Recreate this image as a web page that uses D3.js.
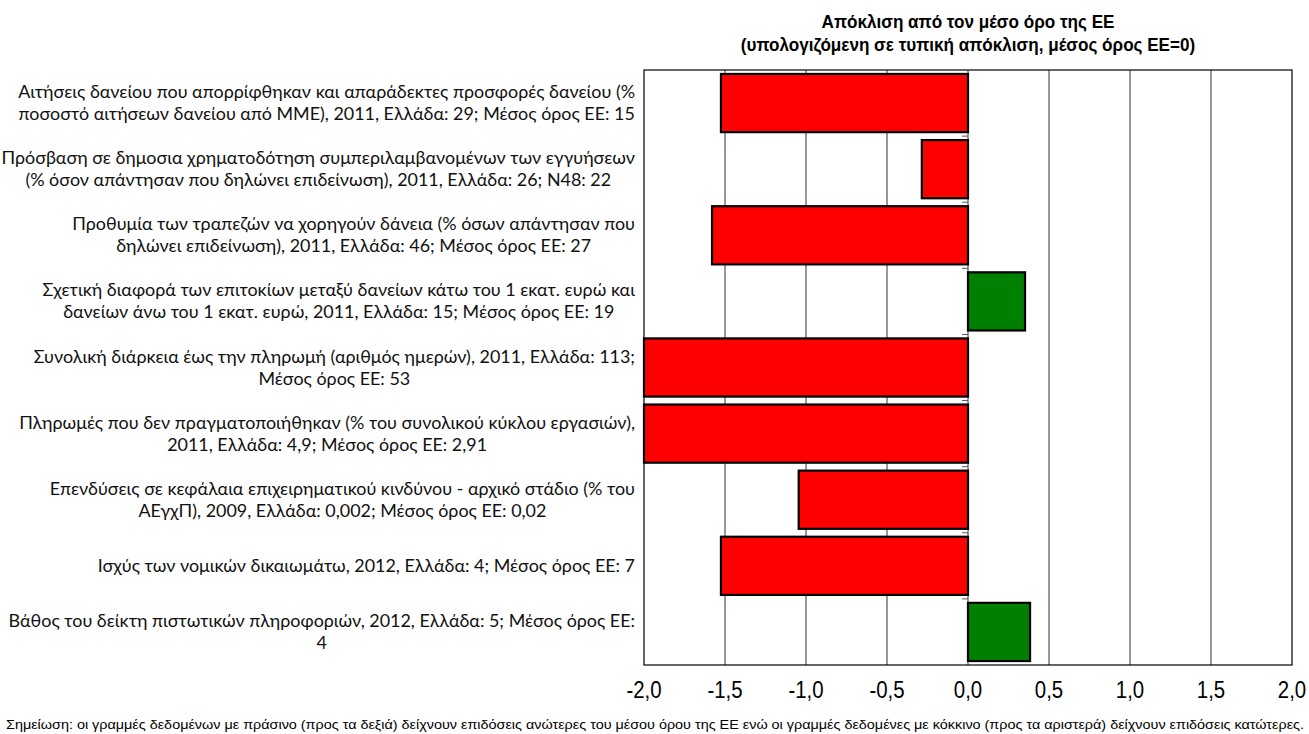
<!DOCTYPE html>
<html>
<head>
<meta charset="utf-8">
<title>Απόκλιση από τον μέσο όρο της ΕΕ</title>
<script src="https://d3js.org/d3.v7.min.js"></script>
<style>
  body { margin: 0; background: #fff; }
</style>
</head>
<body>
<svg id="chart" width="1309" height="734"></svg>
<script>
// category labels, already split into the two lines Excel wraps them into
var categories = [
  ["Αιτήσεις δανείου που απορρίφθηκαν και απαράδεκτες προσφορές δανείου (%", "ποσοστό αιτήσεων δανείου από ΜΜΕ), 2011, Ελλάδα: 29; Μέσος όρος ΕΕ: 15"],
  ["Πρόσβαση σε δημοσια χρηματοδότηση συμπεριλαμβανομένων των εγγυήσεων", "(% όσον απάντησαν που δηλώνει επιδείνωση), 2011, Ελλάδα: 26; N48: 22"],
  ["Προθυμία των τραπεζών να χορηγούν δάνεια  (% όσων απάντησαν που", "δηλώνει επιδείνωση), 2011, Ελλάδα: 46; Μέσος όρος ΕΕ: 27"],
  ["Σχετική διαφορά των επιτοκίων μεταξύ δανείων κάτω του 1 εκατ. ευρώ και", "δανείων άνω του 1 εκατ. ευρώ, 2011, Ελλάδα: 15; Μέσος όρος ΕΕ: 19"],
  ["Συνολική διάρκεια έως την πληρωμή (αριθμός ημερών), 2011, Ελλάδα: 113;", "Μέσος όρος ΕΕ: 53"],
  ["Πληρωμές που δεν πραγματοποιήθηκαν (% του συνολικού κύκλου εργασιών),", "2011, Ελλάδα: 4,9; Μέσος όρος ΕΕ: 2,91"],
  ["Επενδύσεις σε κεφάλαια επιχειρηματικού κινδύνου - αρχικό στάδιο (% του", "ΑΕγχΠ), 2009, Ελλάδα: 0,002; Μέσος όρος ΕΕ: 0,02"],
  ["Ισχύς των νομικών δικαιωμάτω, 2012, Ελλάδα: 4; Μέσος όρος ΕΕ: 7"],
  ["Βάθος του δείκτη πιστωτικών πληροφοριών, 2012, Ελλάδα: 5; Μέσος όρος ΕΕ:", "4"]
];

// deviation from EU average, in standard deviations
var values = [-1.525, -0.285, -1.58, 0.352, -2.0, -2.0, -1.045, -1.525, 0.383];

var tickValues = [-2, -1.5, -1, -0.5, 0, 0.5, 1, 1.5, 2];

var titleLines = ["Απόκλιση από τον μέσο όρο της ΕΕ", "(υπολογιζόμενη σε τυπική απόκλιση, μέσος όρος ΕΕ=0)"];
var note = "Σημείωση: οι γραμμές δεδομένων με πράσινο (προς τα δεξιά) δείχνουν επιδόσεις ανώτερες του μέσου όρου της ΕΕ ενώ οι γραμμές δεδομένες με κόκκινο (προς τα αριστερά) δείχνουν  επιδόσεις κατώτερες.";

var sans = "'Liberation Sans', Arial, sans-serif";
var labelFont = "Lato, 'Open Sans', sans-serif";

var plot = {left: 644, right: 1292, top: 70, bottom: 665};
var svg = d3.select("#chart");

var x = d3.scaleLinear().domain([-2, 2]).range([plot.left, plot.right]);
var y = d3.scaleBand()
    .domain(d3.range(categories.length))
    .range([plot.top, plot.bottom])
    .paddingInner(0.12)
    .paddingOuter(0.06);

// title (condensed, like Arial Narrow)
svg.append("g").selectAll("text")
    .data(titleLines)
    .enter().append("text")
    .attr("transform", (d, i) => "translate(968," + (28 + i * 23) + ") scale(0.9,1)")
    .attr("text-anchor", "middle")
    .style("font-family", sans)
    .style("font-weight", "bold")
    .style("font-size", "19px")
    .text(d => d);

// vertical gridlines
svg.append("g").selectAll("line")
    .data(tickValues.slice(1, -1))
    .enter().append("line")
    .attr("x1", d => x(d)).attr("x2", d => x(d))
    .attr("y1", plot.top).attr("y2", plot.bottom)
    .attr("stroke", "#333")
    .attr("stroke-width", 1);

// plot border
svg.append("rect")
    .attr("x", plot.left).attr("y", plot.top)
    .attr("width", plot.right - plot.left)
    .attr("height", plot.bottom - plot.top)
    .attr("fill", "none")
    .attr("stroke", "#000")
    .attr("stroke-width", 1.2);

// category ticks on the zero axis
var step = (plot.bottom - plot.top) / categories.length;
svg.append("g").selectAll("line")
    .data(d3.range(1, categories.length))
    .enter().append("line")
    .attr("x1", x(0) - 6).attr("x2", x(0))
    .attr("y1", d => plot.top + d * step).attr("y2", d => plot.top + d * step)
    .attr("stroke", "#555");

// bars
svg.append("g").selectAll("rect")
    .data(values)
    .enter().append("rect")
    .attr("x", d => x(Math.min(0, d)))
    .attr("y", (d, i) => y(i))
    .attr("width", d => Math.abs(x(d) - x(0)))
    .attr("height", y.bandwidth())
    .attr("fill", d => d < 0 ? "#ff0000" : "#008000")
    .attr("stroke", "#000")
    .attr("stroke-width", 2.2);

// x axis tick labels
svg.append("g").selectAll("text")
    .data(tickValues)
    .enter().append("text")
    .attr("transform", d => "translate(" + x(d) + ",698) scale(0.85,1)")
    .attr("text-anchor", "middle")
    .style("font-family", sans)
    .style("font-size", "24px")
    .text(d => d3.format(".1f")(d).replace(".", ",").replace("−", "-"));

// category labels: centred lines, block right-aligned against the plot
var labelRight = 635;
categories.forEach(function(lines, i) {
    var cy = plot.top + (i + 0.5) * step;
    var t = svg.append("text")
        .attr("text-anchor", "middle")
        .style("font-family", labelFont)
        .style("font-size", "17.9px")
        .attr("fill", "#111");
    lines.forEach(function(line, j) {
        t.append("tspan")
            .attr("x", 0)
            .attr("y", cy + (j - (lines.length - 1) / 2) * 22 + 6)
            .text(line);
    });
    var w = t.node().getBBox().width;
    t.attr("transform", "translate(" + (labelRight - w / 2) + ",0)");
});

// footnote
svg.append("text")
    .attr("x", 655)
    .attr("y", 729)
    .attr("text-anchor", "middle")
    .attr("textLength", 1298)
    .attr("lengthAdjust", "spacingAndGlyphs")
    .style("font-family", sans)
    .style("font-size", "12px")
    .text(note);
</script>
</body>
</html>
